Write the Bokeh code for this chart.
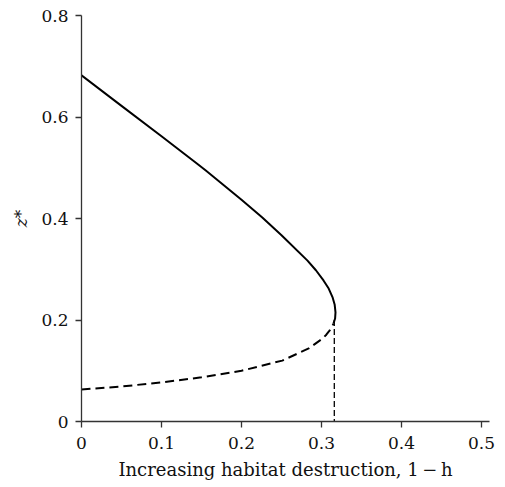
from bokeh.plotting import figure
from bokeh.models import FixedTicker, NumeralTickFormatter, Range1d
from bokeh.embed import file_html
from bokeh.resources import INLINE

# Stable (upper) equilibrium branch: habitat destruction 1-h vs z*
upper_x = [0.0, 0.05, 0.10, 0.143, 0.155, 0.20, 0.226, 0.25, 0.2825, 0.293, 0.3025,
           0.309, 0.314, 0.3165, 0.3175, 0.317, 0.315]
upper_z = [0.682, 0.622, 0.562, 0.510, 0.495, 0.437, 0.402, 0.367, 0.317, 0.298, 0.278,
           0.262, 0.244, 0.230, 0.215, 0.203, 0.193]

# Unstable (lower) equilibrium branch
lower_x = [0.0, 0.05, 0.10, 0.15, 0.20, 0.251, 0.284, 0.301, 0.306, 0.310, 0.313, 0.315]
lower_z = [0.063, 0.069, 0.077, 0.087, 0.100, 0.120, 0.144, 0.163, 0.171, 0.179, 0.186, 0.193]

# Threshold (fold point) drop line
thresh_x = [0.316, 0.316]
thresh_z = [0.20, 0.0]

x_ticks = [0, 0.1, 0.2, 0.3, 0.4, 0.5]
y_ticks = [0, 0.2, 0.4, 0.6, 0.8]
x_label = "Increasing habitat destruction, 1\u2009\u2212\u2009h"
y_label = "z*"

FONT = "DejaVu Serif"

p = figure(width=505, height=487, output_backend="svg", toolbar_location=None,
           x_range=Range1d(0, 0.51), y_range=Range1d(0, 0.8),
           min_border_left=81, min_border_right=16, min_border_top=15, min_border_bottom=66)
p.outline_line_color = None
p.xgrid.visible = False
p.ygrid.visible = False
p.background_fill_color = "white"
p.border_fill_color = "white"

p.line(upper_x, upper_z, line_color="black", line_width=2, line_join="round")
p.line(lower_x, lower_z, line_color="black", line_width=2, line_dash="9 5")
p.line(thresh_x, thresh_z, line_color="black", line_width=1.3, line_dash="6 3")

for ax, ticks in ((p.xaxis[0], x_ticks), (p.yaxis[0], y_ticks)):
    ax.ticker = FixedTicker(ticks=ticks)
    ax.formatter = NumeralTickFormatter(format="0.[0]")
    ax.axis_line_color = "#333333"
    ax.axis_line_width = 1.3
    ax.major_tick_line_color = "#333333"
    ax.major_tick_line_width = 1.3
    ax.major_tick_out = 6
    ax.major_tick_in = 0
    ax.minor_tick_line_color = None
    ax.major_label_text_font = FONT
    ax.major_label_text_font_size = "17px"
    ax.major_label_text_color = "#111111"

p.xaxis[0].major_label_standoff = 9
p.yaxis[0].major_label_standoff = 7
p.xaxis[0].axis_label = x_label
p.xaxis[0].axis_label_text_font = FONT
p.xaxis[0].axis_label_text_font_size = "18px"
p.xaxis[0].axis_label_text_font_style = "normal"
p.xaxis[0].axis_label_text_color = "#111111"
p.xaxis[0].axis_label_standoff = 7

p.yaxis[0].axis_label = y_label
p.yaxis[0].axis_label_text_font = FONT
p.yaxis[0].axis_label_text_font_style = "italic"
p.yaxis[0].axis_label_text_font_size = "17px"
p.yaxis[0].axis_label_text_color = "#111111"
p.yaxis[0].axis_label_standoff = 7

open("out.html", "w").write(file_html(p, INLINE))
